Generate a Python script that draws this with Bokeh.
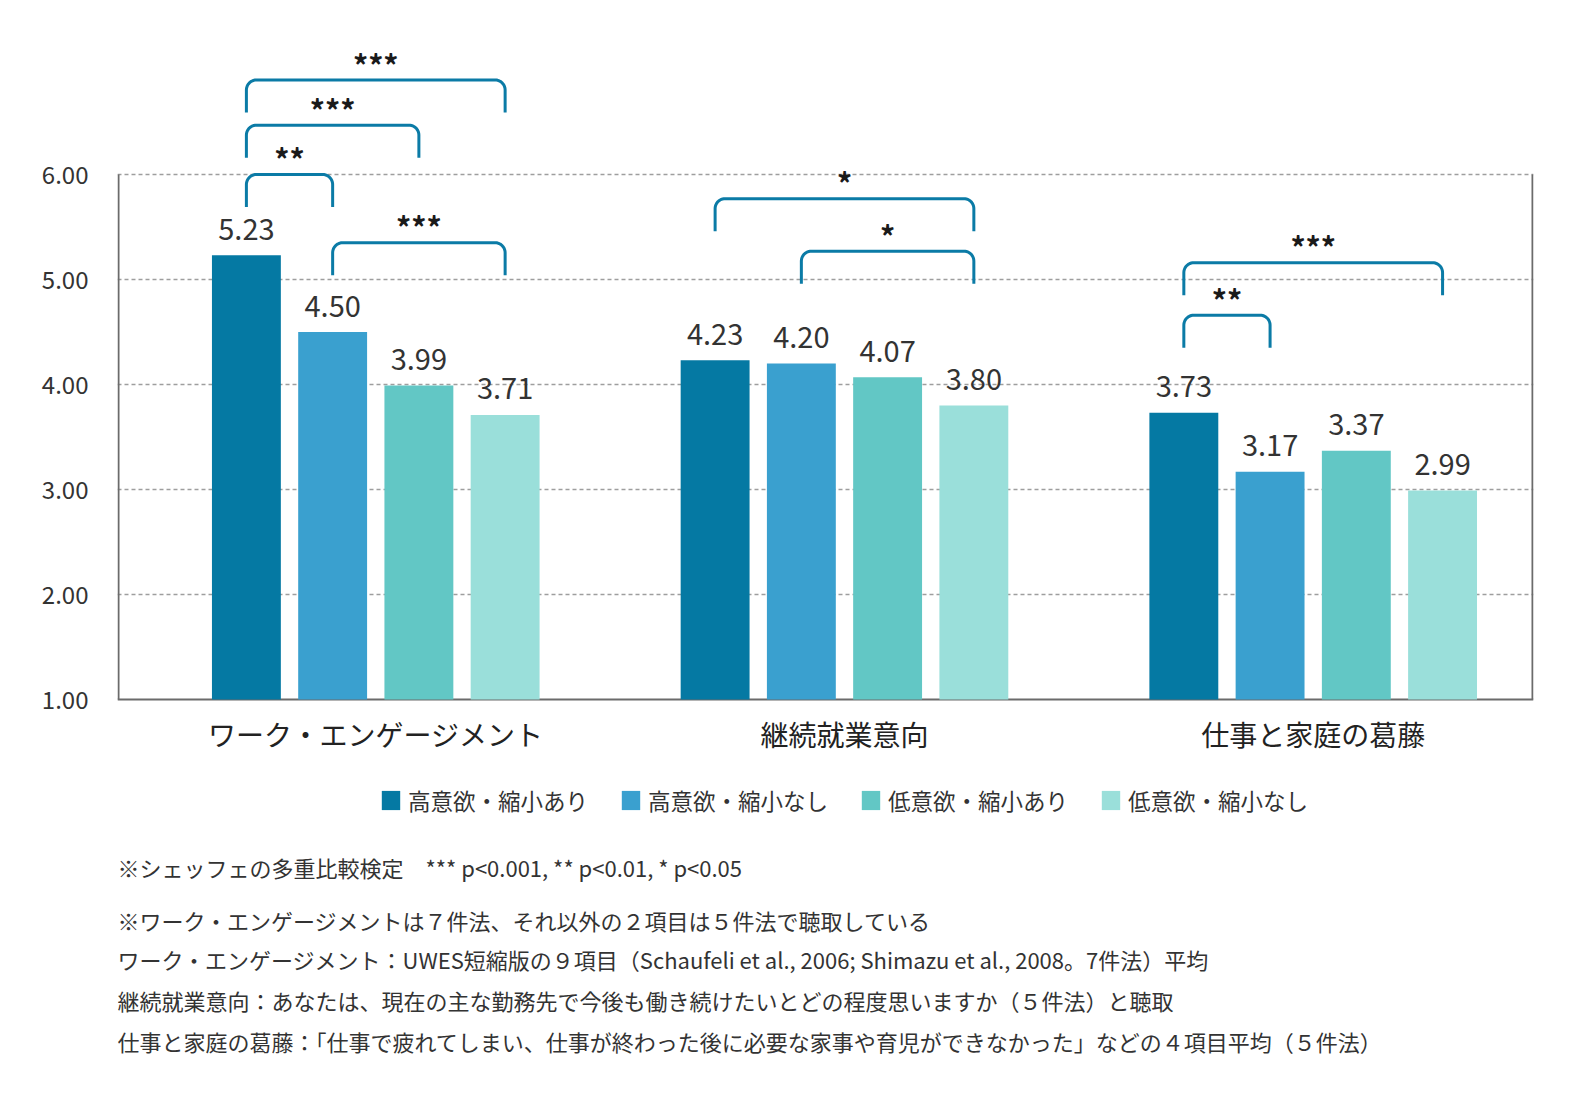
import math
from bokeh.plotting import figure
from bokeh.models import (ColumnDataSource, Range1d, FixedTicker, NumeralTickFormatter,
                          Legend, LegendItem)
from bokeh.core.properties import value
from bokeh.embed import file_html
from bokeh.resources import INLINE

FONT = "Noto Sans CJK JP"

# ---------------- data ----------------
categories = ["ワーク・エンゲージメント", "継続就業意向", "仕事と家庭の葛藤"]
series_names = ["高意欲・縮小あり", "高意欲・縮小なし", "低意欲・縮小あり", "低意欲・縮小なし"]
s_high_shrink = [5.23, 4.23, 3.73]
s_high_noshrink = [4.50, 4.20, 3.17]
s_low_shrink = [3.99, 4.07, 3.37]
s_low_noshrink = [3.71, 3.80, 2.99]
series_values = [s_high_shrink, s_high_noshrink, s_low_shrink, s_low_noshrink]
colors = ["#0579a3", "#3aa0cf", "#62c7c5", "#9adfda"]

y_ticks = [1, 2, 3, 4, 5, 6]

# significance brackets: category index, from series, to series, bracket top value, label
br_group = [0, 0, 0, 0, 1, 1, 2, 2]
br_from = [0, 0, 0, 1, 0, 1, 0, 0]
br_to = [1, 2, 3, 3, 3, 3, 3, 1]
br_top = [6.00, 6.47, 6.90, 5.35, 5.77, 5.27, 5.16, 4.66]
br_label = ["**", "***", "***", "***", "*", "*", "***", "**"]

notes = [
    "※シェッフェの多重比較検定　*** p<0.001, ** p<0.01, * p<0.05",
    "※ワーク・エンゲージメントは７件法、それ以外の２項目は５件法で聴取している",
    "ワーク・エンゲージメント：UWES短縮版の９項目（Schaufeli et al., 2006; Shimazu et al., 2008。7件法）平均",
    "継続就業意向：あなたは、現在の主な勤務先で今後も働き続けたいとどの程度思いますか（５件法）と聴取",
    "仕事と家庭の葛藤：「仕事で疲れてしまい、仕事が終わった後に必要な家事や育児ができなかった」などの４項目平均（５件法）",
]

# ---------------- layout ----------------
W, H = 1560, 1095
LEFT_BORDER = 117
RIGHT_BORDER = W - 1533
TOP_BORDER = 38
PX_Y = 105.0        # pixels per y unit
PX_X = 468.7        # pixels per x unit
BASE_Y = 699        # canvas pixel of y = 1.00
X0, X1 = -0.551, 2.470
Y1 = 6.0 + (BASE_Y - 5 * PX_Y - TOP_BORDER) / PX_Y
Y0 = 1.0 - (H - BASE_Y) / PX_Y
OFF = 0.184         # bar spacing within group
BW = 0.147          # bar width


def y_at(canvas_px):
    return 1.0 - (canvas_px - BASE_Y) / PX_Y


p = figure(width=W, height=H, output_backend="svg", toolbar_location=None,
           x_range=Range1d(X0, X1), y_range=Range1d(Y0, Y1),
           min_border_left=LEFT_BORDER, min_border_right=RIGHT_BORDER,
           min_border_top=TOP_BORDER, min_border_bottom=0)
p.outline_line_color = None
p.background_fill_color = "white"
p.border_fill_color = "white"

# grid
p.xgrid.visible = False
p.ygrid.ticker = FixedTicker(ticks=y_ticks[1:])
p.ygrid.grid_line_color = "#9e9e9e"
p.ygrid.grid_line_dash = "4 3"
p.ygrid.grid_line_width = 1.5

# y axis
p.yaxis.ticker = FixedTicker(ticks=y_ticks)
p.yaxis.formatter = NumeralTickFormatter(format="0.00")
p.yaxis.axis_line_color = None
p.yaxis.major_tick_line_color = None
p.yaxis.major_tick_out = 0
p.yaxis.major_tick_in = 0
p.yaxis.minor_tick_line_color = None
p.yaxis.minor_tick_out = 0
p.yaxis.major_label_standoff = 29
p.yaxis.major_label_text_font = FONT
p.yaxis.major_label_text_font_size = "24px"
p.yaxis.major_label_text_color = "#333333"

p.xaxis.visible = False

# axis lines and right border (from 1.00 up to 6.00)
dx = 1.0 / PX_X
p.segment(x0=[X0 + dx, X1 - dx, X0], y0=[y_ticks[0], y_ticks[0], y_ticks[0]],
          x1=[X0 + dx, X1 - dx, X1], y1=[y_ticks[-1], y_ticks[-1], y_ticks[0]],
          line_color="#6b6b6b", line_width=2)

# category labels
p.text(x=list(range(len(categories))), y=[y_at(733)] * len(categories), text=categories,
       text_align="center", text_baseline="middle", text_font=value(FONT),
       text_font_size="28px", text_color="#222222")

# bars
legend_items = []
for i, (name, vals, col) in enumerate(zip(series_names, series_values, colors)):
    xs = [g + (i - 1.5) * OFF for g in range(len(categories))]
    src = ColumnDataSource(dict(x=xs, top=vals,
                                ty=[v + 26.0 / PX_Y for v in vals],
                                label=["%.2f" % v for v in vals]))
    r = p.vbar(x="x", top="top", bottom=y_ticks[0], width=BW, source=src,
               fill_color=col, line_color=None)
    p.text(x="x", y="ty", text="label", source=src, text_align="center",
           text_baseline="alphabetic", text_font=value(FONT),
           text_font_size="29px", text_color="#333333")
    legend_items.append(LegendItem(label=name, renderers=[r]))

# brackets
DEPTH = 0.31
RX = 10.0 / PX_X
RY = 10.0 / PX_Y
xs_all, ys_all, lx, ly = [], [], [], []
for g, a, b, top in zip(br_group, br_from, br_to, br_top):
    xl = g + (a - 1.5) * OFF
    xr = g + (b - 1.5) * OFF
    xs = [xl]
    ys = [top - DEPTH]
    n = 12
    for k in range(n + 1):
        t = math.pi - (math.pi / 2) * k / n
        xs.append(xl + RX + RX * math.cos(t))
        ys.append(top - RY + RY * math.sin(t))
    for k in range(n + 1):
        t = math.pi / 2 - (math.pi / 2) * k / n
        xs.append(xr - RX + RX * math.cos(t))
        ys.append(top - RY + RY * math.sin(t))
    xs.append(xr)
    ys.append(top - DEPTH)
    xs_all.append(xs)
    ys_all.append(ys)
    lx.append((xl + xr) / 2)
    ly.append(top + 16.3 / PX_Y)

p.multi_line(xs=xs_all, ys=ys_all, line_color="#0b7ba6", line_width=3,
             line_join="round")
p.text(x=lx, y=ly, text=br_label, text_align="center", text_baseline="middle",
       text_font=value(FONT), text_font_size="30px", text_color="#1a1a1a",
       text_font_style="bold")

# legend (inside the frame, below the categories)
legend = Legend(items=legend_items, orientation="horizontal",
                location=(262, int(H - 816)),
                glyph_width=23, glyph_height=24, label_standoff=6, spacing=31,
                label_text_font=FONT, label_text_font_size="22.5px",
                label_text_color="#333333", border_line_color=None,
                background_fill_alpha=0, padding=0, margin=0)
p.add_layout(legend, "center")

# notes
note_px = [866, 919, 958, 999, 1040]
p.text(x=[X0] * len(notes), y=[y_at(v) for v in note_px], text=notes,
       text_align="left", text_baseline="middle", text_font=value(FONT),
       text_font_size="22px", text_color="#333333")

open("out.html", "w").write(file_html(p, INLINE))
